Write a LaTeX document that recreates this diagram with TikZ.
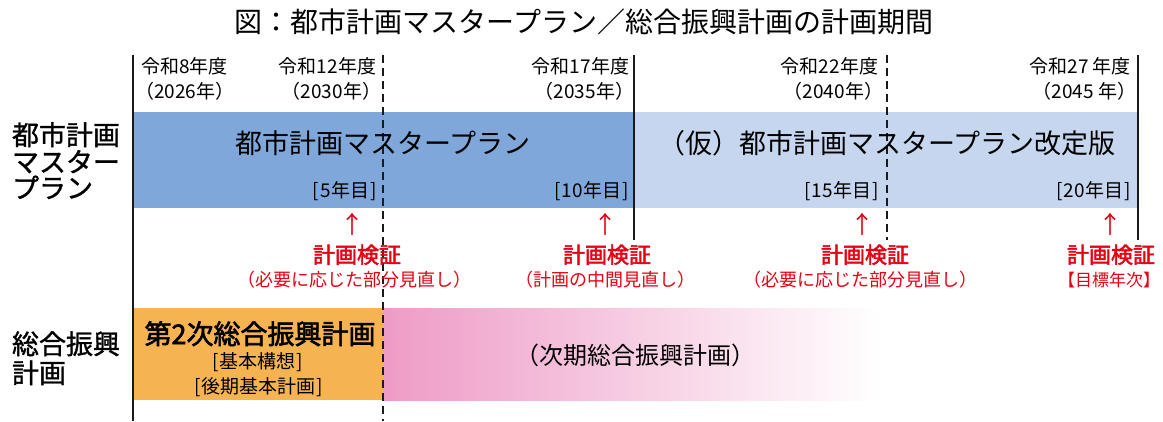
\documentclass[tikz,border=0pt]{standalone}
\usepackage{fontspec}
\setmainfont{Noto Sans CJK JP}
\newfontfamily\jpmed[FakeBold=1.2]{Noto Sans CJK JP}
\newfontfamily\jpsemi[FakeBold=2.2]{Noto Sans CJK JP}
\definecolor{bluedark}{HTML}{7FA7DA}
\definecolor{bluelight}{HTML}{C5D6EE}
\definecolor{orangebox}{HTML}{F5B352}
\definecolor{pinkbox}{HTML}{EE9BC6}
\definecolor{redtxt}{HTML}{E60012}
\definecolor{linecol}{HTML}{1A1A1A}
\newcommand\fsz[1]{\fontsize{#1}{#1}\selectfont}
\begin{document}
\begin{tikzpicture}[x=1pt,y=-1pt,
  tb/.style={inner sep=0pt,outer sep=0pt,anchor=base},
  tbw/.style={tb,anchor=base west},
  tbe/.style={tb,anchor=base east},
  yearlbl/.style={font=\fsz{19}},
  banddark/.style={fill=bluedark},
  bandlight/.style={fill=bluelight},
  bandtxt/.style={tb,font=\fsz{27}},
  yearno/.style={tbe,font=\fsz{19}},
  uparrow/.style={tb,font=\fsz{24},text=redtxt},
  check/.style={tb,font=\fsz{22}\jpsemi,text=redtxt},
  checksub/.style={tb,font=\fsz{18},text=redtxt},
  rowlbl/.style={tbw,font=\fsz{27}\jpmed},
  solidline/.style={draw=linecol,line width=1.5pt},
  dashline/.style={draw=linecol,line width=1.5pt,dash pattern=on 8pt off 5pt}]
\useasboundingbox (0,0) rectangle (1163,421);

% title
\node[tb,font=\fsz{28}] (title) at (584,32.6) {図：都市計画マスタープラン／総合振興計画の計画期間};

% bands
\path[banddark] (133,112) rectangle (634,208);
\path[bandlight] (634,112) rectangle (1138,208);
\path[fill=orangebox] (133,308) rectangle (383,400);
\shade[left color=pinkbox,right color=white,shading angle=90] (383,308) rectangle (880,400);

% vertical lines
\coordinate (t0) at (133,55); \coordinate (e0) at (133,421);
\coordinate (t1) at (383,55); \coordinate (e1) at (383,421);
\coordinate (t2) at (634,55); \coordinate (e2) at (634,240);
\coordinate (t3) at (887,55); \coordinate (e3) at (887,240);
\coordinate (t4) at (1138,55); \coordinate (e4) at (1138,240);
\draw[solidline] (t0) -- (e0);
\draw[dashline] (t1) -- (e1);
\draw[solidline] (t2) -- (e2);
\draw[dashline] (t3) -- (e3);
\draw[solidline] (t4) -- (e4);

% year labels
\node[tbw,yearlbl] (y8a) at (141,73.2) {令和8年度};
\node[tbw,yearlbl] (y8b) at (135,98.2) {（2026年）};
\node[tbe,yearlbl] (y12a) at (376,73.2) {令和12年度};
\node[tbe,yearlbl] (y12b) at (381,98.2) {（2030年）};
\node[tbe,yearlbl] (y17a) at (629,73.2) {令和17年度};
\node[tbe,yearlbl] (y17b) at (634,98.2) {（2035年）};
\node[tbe,yearlbl] (y22a) at (878,73.2) {令和22年度};
\node[tbe,yearlbl] (y22b) at (883,98.2) {（2040年）};
\node[tbe,yearlbl] (y27a) at (1131,73.2) {令和27 年度};
\node[tbe,yearlbl] (y27b) at (1136,98.2) {（2045 年）};

% band texts
\node[bandtxt] (mp) at (383,153.3) {都市計画マスタープラン};
\node[bandtxt] (mprev) at (887,153.3) {（仮）都市計画マスタープラン改定版};
\node[yearno] (n5) at (377,197) {[\kern1.5pt 5年目\kern1.5pt]};
\node[yearno] (n10) at (629,197) {[\kern1.5pt 10年目\kern1.5pt]};
\node[yearno] (n15) at (879,197) {[\kern1.5pt 15年目\kern1.5pt]};
\node[yearno] (n20) at (1131,197) {[\kern1.5pt 20年目\kern1.5pt]};

% checks
\node[uparrow] (a1) at (352,233) {↑};
\node[uparrow] (a2) at (605,233) {↑};
\node[uparrow] (a3) at (862,233) {↑};
\node[uparrow] (a4) at (1110,233) {↑};
\node[check] (c1) at (357,263) {計画検証};
\node[check] (c2) at (607,263) {計画検証};
\node[check] (c3) at (865,263) {計画検証};
\node[check] (c4) at (1111,263) {計画検証};
\node[checksub] (s1) at (354,286.3) {（必要に応じた部分見直し）};
\node[checksub] (s2) at (605,286.3) {（計画の中間見直し）};
\node[checksub] (s3) at (860,286.3) {（必要に応じた部分見直し）};
\node[checksub,font=\fsz{17}] (s4) at (1109,286) {【目標年次】};

% bottom texts
\node[tb,font=\fsz{27}\jpsemi] (sogo2) at (260,344) {第2次総合振興計画};
\node[tb,font=\fsz{19}] (kihon) at (258,368) {[\kern1pt 基本構想\kern1pt]};
\node[tb,font=\fsz{19}] (koki) at (259,393) {[\kern1pt 後期基本計画\kern1pt]};
\node[tb,font=\fsz{24}] (jiki) at (635,364) {（次期総合振興計画）};

% row labels
\node[rowlbl] (r1a) at (12,145) {都市計画};
\node[rowlbl] (r1b) at (12,172) {マスター};
\node[rowlbl] (r1c) at (12,198) {プラン};
\node[rowlbl] (r2a) at (12,354) {総合振興};
\node[rowlbl] (r2b) at (12,383) {計画};
\end{tikzpicture}
\end{document}
